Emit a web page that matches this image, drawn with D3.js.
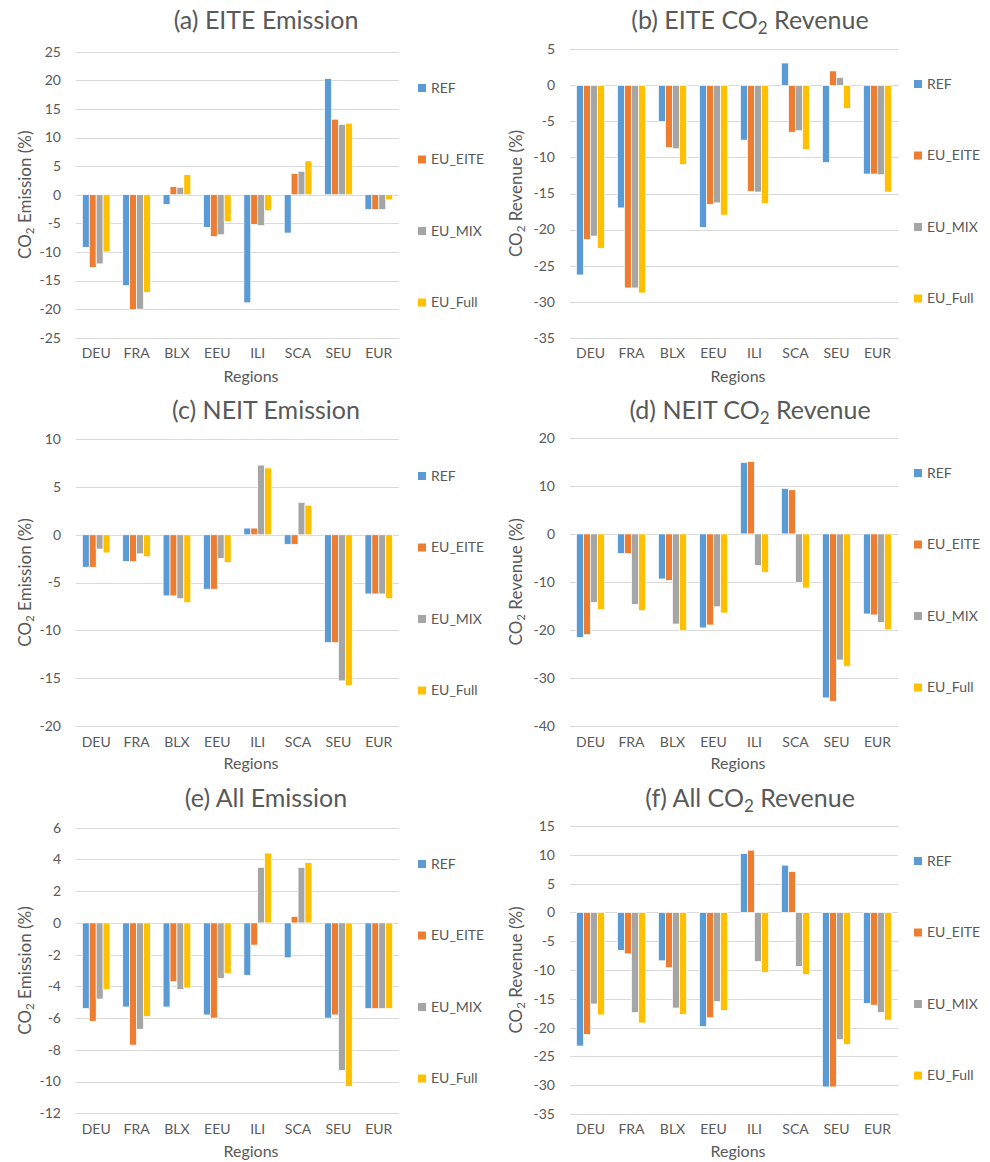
<!DOCTYPE html>
<html>
<head>
<meta charset="utf-8">
<script src="https://cdn.jsdelivr.net/npm/d3@7"></script>
<style>
  html, body { margin: 0; padding: 0; background: #fff; }
  svg text { font-family: Lato, "Open Sans", sans-serif; fill: #595959; }
</style>
</head>
<body>
<svg id="chart" width="990" height="1162"></svg>
<script>
// ---------- DATA ----------
const regions = ["DEU", "FRA", "BLX", "EEU", "ILI", "SCA", "SEU", "EUR"];
const seriesNames = ["REF", "EU_EITE", "EU_MIX", "EU_Full"];
const seriesColors = ["#5B9BD5", "#ED7D31", "#A5A5A5", "#FFC000"];

// each array: rows = series (REF, EU_EITE, EU_MIX, EU_Full), cols = regions
const eiteEmission = [
  [-9.2, -15.9, -1.7, -5.7, -18.9, -6.7, 20.3, -2.6],
  [-12.7, -20.1, 1.4, -7.3, -5.2, 3.7, 13.2, -2.6],
  [-12.1, -20.0, 1.3, -7.0, -5.4, 4.1, 12.3, -2.6],
  [-10.0, -17.1, 3.5, -4.7, -2.8, 5.9, 12.5, -0.9]
];
const eiteRevenue = [
  [-26.3, -17.0, -5.0, -19.7, -7.6, 3.1, -10.7, -12.3],
  [-21.4, -28.1, -8.6, -16.5, -14.7, -6.5, 2.0, -12.3],
  [-20.9, -28.1, -8.8, -16.3, -14.8, -6.3, 1.1, -12.4],
  [-22.6, -28.8, -11.0, -18.0, -16.4, -8.9, -3.2, -14.8]
];
const neitEmission = [
  [-3.4, -2.8, -6.4, -5.7, 0.7, -1.0, -11.3, -6.2],
  [-3.4, -2.8, -6.4, -5.7, 0.7, -1.0, -11.3, -6.2],
  [-1.5, -2.0, -6.7, -2.5, 7.3, 3.4, -15.3, -6.2],
  [-1.9, -2.3, -7.1, -2.9, 7.0, 3.1, -15.8, -6.7]
];
const neitRevenue = [
  [-21.6, -4.1, -9.4, -19.6, 14.9, 9.5, -34.2, -16.7],
  [-21.0, -4.1, -9.7, -19.0, 15.1, 9.2, -34.9, -16.9],
  [-14.3, -14.7, -18.8, -15.2, -6.6, -10.1, -26.3, -18.5],
  [-15.8, -16.0, -20.2, -16.5, -8.0, -11.3, -27.6, -19.9]
];
const allEmission = [
  [-5.4, -5.3, -5.3, -5.8, -3.3, -2.2, -6.0, -5.4],
  [-6.2, -7.7, -3.7, -6.0, -1.4, 0.4, -5.8, -5.4],
  [-4.8, -6.7, -4.2, -3.5, 3.5, 3.5, -9.3, -5.4],
  [-4.2, -5.9, -4.1, -3.2, 4.4, 3.8, -10.3, -5.4]
];
const allRevenue = [
  [-23.2, -6.6, -8.4, -19.8, 10.2, 8.2, -30.3, -15.8],
  [-21.2, -7.2, -9.6, -18.3, 10.8, 7.1, -30.3, -16.1],
  [-15.9, -17.4, -16.6, -15.5, -8.5, -9.4, -22.1, -17.4],
  [-17.8, -19.2, -17.7, -17.0, -10.4, -10.8, -22.9, -18.7]
];

// tick values
const ticksA = [-25, -20, -15, -10, -5, 0, 5, 10, 15, 20, 25];
const ticksB = [-35, -30, -25, -20, -15, -10, -5, 0, 5];
const ticksC = [-20, -15, -10, -5, 0, 5, 10];
const ticksD = [-40, -30, -20, -10, 0, 10, 20];
const ticksE = [-12, -10, -8, -6, -4, -2, 0, 2, 4, 6];
const ticksF = [-35, -30, -25, -20, -15, -10, -5, 0, 5, 10, 15];

// titles (segments: [text, isSubscript])
const titleA = [["(a) EITE Emission", false]];
const titleB = [["(b) EITE CO", false], ["2", true], [" Revenue", false]];
const titleC = [["(c) NEIT Emission", false]];
const titleD = [["(d) NEIT CO", false], ["2", true], [" Revenue", false]];
const titleE = [["(e) All Emission", false]];
const titleF = [["(f) All CO", false], ["2", true], [" Revenue", false]];
const yLabelEmission = [["CO", false], ["2", true], [" Emission (%)", false]];
const yLabelRevenue = [["CO", false], ["2", true], [" Revenue (%)", false]];
const xLabel = "Regions";

// ---------- LAYOUT ----------
const panels = [
  { data: eiteEmission, ticks: ticksA, title: titleA, ylab: yLabelEmission, col: 0, top: 51.7, bottom: 337.7, legTop: 88, titleY: 29, tickY: 358, xlabY: 382 },
  { data: eiteRevenue, ticks: ticksB, title: titleB, ylab: yLabelRevenue, col: 1, top: 49.3, bottom: 337.7, legTop: 84, titleY: 29, tickY: 358, xlabY: 382 },
  { data: neitEmission, ticks: ticksC, title: titleC, ylab: yLabelEmission, col: 0, top: 439.3, bottom: 725.7, legTop: 476, titleY: 419, tickY: 747, xlabY: 769 },
  { data: neitRevenue, ticks: ticksD, title: titleD, ylab: yLabelRevenue, col: 1, top: 438, bottom: 725.7, legTop: 473, titleY: 419, tickY: 747, xlabY: 769 },
  { data: allEmission, ticks: ticksE, title: titleE, ylab: yLabelEmission, col: 0, top: 827.7, bottom: 1113.3, legTop: 864, titleY: 807, tickY: 1134, xlabY: 1157 },
  { data: allRevenue, ticks: ticksF, title: titleF, ylab: yLabelRevenue, col: 1, top: 826, bottom: 1114, legTop: 861, titleY: 807, tickY: 1134, xlabY: 1157 }
];
const cols = [
  { x0: 76, x1: 399, tickRight: 61, ylabX: 25, titleX: 266, xlabX: 251, legX: 418 },
  { x0: 570, x1: 898, tickRight: 555, ylabX: 516, titleX: 750, xlabX: 738, legX: 914 }
];

const svg = d3.select("#chart");

function richText(sel, parts) {
  parts.forEach(([t, sub], i) => {
    const ts = sel.append("tspan").text(t);
    if (sub) {
      ts.attr("font-size", "0.68em").attr("dy", "0.3em");
    } else if (i > 0 && parts[i - 1][1]) {
      ts.attr("dy", "-0.2em");
    }
  });
}

panels.forEach(p => {
  const c = cols[p.col];
  const g = svg.append("g");
  const ext = d3.extent(p.ticks);
  const y = d3.scaleLinear().domain(ext).range([p.bottom, p.top]);
  const x = d3.scaleBand().domain(regions).range([c.x0, c.x1])
    .paddingInner(0.315).paddingOuter(0.1575);
  const xs = d3.scaleBand().domain(seriesNames).range([0, x.bandwidth()]);

  // gridlines
  g.append("g").selectAll("line").data(p.ticks).join("line")
    .attr("x1", c.x0).attr("x2", c.x1)
    .attr("y1", d => Math.round(y(d)) + 0.5).attr("y2", d => Math.round(y(d)) + 0.5)
    .attr("stroke", "#d9d9d9").attr("stroke-width", 1);

  // y tick labels
  g.append("g").selectAll("text").data(p.ticks).join("text")
    .attr("x", c.tickRight).attr("y", d => y(d))
    .attr("dy", "0.35em").attr("text-anchor", "end")
    .attr("font-size", 14).text(d => d);

  // bars
  p.data.forEach((vals, si) => {
    g.append("g").selectAll("rect").data(vals).join("rect")
      .attr("x", (d, i) => x(regions[i]) + xs(seriesNames[si]))
      .attr("width", xs.bandwidth())
      .attr("y", d => y(Math.max(0, d)))
      .attr("height", d => Math.abs(y(d) - y(0)))
      .attr("fill", seriesColors[si])
      .attr("stroke", "#ffffff").attr("stroke-width", 0.7);
  });

  // x tick labels
  g.append("g").selectAll("text").data(regions).join("text")
    .attr("x", d => x(d) + x.bandwidth() / 2).attr("y", p.tickY)
    .attr("text-anchor", "middle").attr("font-size", 14).text(d => d);

  // x axis title
  g.append("text").attr("x", c.xlabX).attr("y", p.xlabY)
    .attr("text-anchor", "middle").attr("font-size", 16).text(xLabel);

  // y axis title
  const yc = (p.top + p.bottom) / 2;
  const yl = g.append("text")
    .attr("transform", `translate(${c.ylabX},${yc}) rotate(-90)`)
    .attr("text-anchor", "middle").attr("dy", "0.35em").attr("font-size", 17);
  richText(yl, p.ylab);

  // title
  const tt = g.append("text").attr("x", c.titleX).attr("y", p.titleY)
    .attr("text-anchor", "middle").attr("font-size", 25);
  richText(tt, p.title);

  // legend
  const lg = g.append("g").selectAll("g").data(seriesNames).join("g")
    .attr("transform", (d, i) => `translate(${c.legX},${p.legTop + i * 71.5})`);
  lg.append("rect").attr("x", 0).attr("y", -4).attr("width", 8).attr("height", 8)
    .attr("fill", (d, i) => seriesColors[i]);
  lg.append("text").attr("x", 13).attr("y", 0).attr("dy", "0.35em")
    .attr("font-size", 14).text(d => d);
});
</script>
</body>
</html>
